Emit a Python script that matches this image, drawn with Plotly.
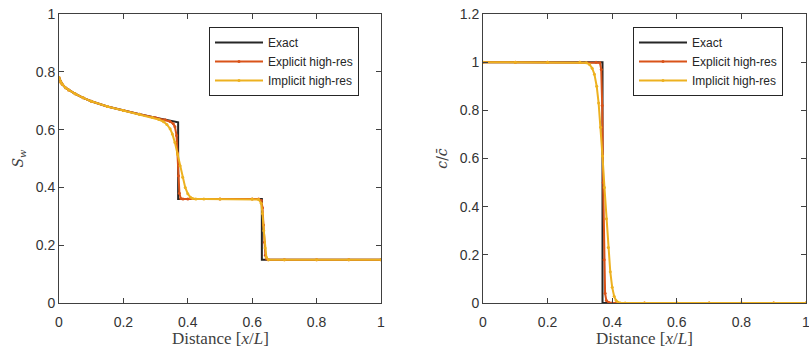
import plotly.graph_objects as go

# ---- Data ----
x_sw_exact = [0, 0.005, 0.01, 0.02, 0.03, 0.05, 0.075, 0.1, 0.15, 0.2, 0.25, 0.3, 0.35, 0.37, 0.37, 0.63, 0.63, 1.0]
sw_exact = [0.78, 0.765, 0.757, 0.745, 0.737, 0.724, 0.710, 0.698, 0.680, 0.666, 0.653, 0.641, 0.630, 0.625, 0.36, 0.36, 0.15, 0.15]

x_sw_expl = [0, 0.005, 0.01, 0.02, 0.03, 0.05, 0.075, 0.1, 0.15, 0.2, 0.25, 0.3, 0.33, 0.345, 0.355, 0.36, 0.365, 0.368, 0.371, 0.374, 0.378, 0.385, 0.4, 0.5, 0.6, 0.62, 0.628, 0.632, 0.635, 0.638, 0.641, 0.645, 0.65, 0.7, 0.8, 0.9, 1.0]
sw_expl = [0.78, 0.765, 0.757, 0.745, 0.737, 0.724, 0.710, 0.698, 0.680, 0.666, 0.653, 0.641, 0.634, 0.628, 0.620, 0.61, 0.58, 0.52, 0.44, 0.38, 0.362, 0.36, 0.36, 0.36, 0.36, 0.36, 0.355, 0.33, 0.27, 0.21, 0.165, 0.152, 0.15, 0.15, 0.15, 0.15, 0.15]

x_sw_impl = [0, 0.005, 0.01, 0.02, 0.03, 0.05, 0.075, 0.1, 0.15, 0.2, 0.25, 0.29, 0.31, 0.325, 0.335, 0.345, 0.352, 0.36, 0.368, 0.376, 0.384, 0.392, 0.4, 0.408, 0.415, 0.425, 0.45, 0.5, 0.6, 0.62, 0.628, 0.632, 0.636, 0.64, 0.644, 0.65, 0.7, 0.8, 0.9, 1.0]
sw_impl = [0.78, 0.765, 0.757, 0.745, 0.737, 0.724, 0.710, 0.698, 0.680, 0.666, 0.653, 0.642, 0.635, 0.627, 0.618, 0.603, 0.585, 0.555, 0.515, 0.475, 0.435, 0.400, 0.378, 0.366, 0.362, 0.36, 0.36, 0.36, 0.36, 0.358, 0.345, 0.31, 0.25, 0.19, 0.158, 0.15, 0.15, 0.15, 0.15, 0.15]

x_c_exact = [0, 0.37, 0.37, 1.0]
c_exact = [1, 1, 0, 0]

x_c_expl = [0, 0.1, 0.2, 0.3, 0.35, 0.362, 0.366, 0.369, 0.372, 0.375, 0.378, 0.382, 0.39, 0.4, 0.5, 0.6, 0.7, 0.8, 0.9, 1.0]
c_expl = [1, 1, 1, 1, 1, 0.998, 0.97, 0.82, 0.5, 0.18, 0.04, 0.01, 0.002, 0, 0, 0, 0, 0, 0, 0]

x_c_impl = [0, 0.1, 0.2, 0.3, 0.32, 0.33, 0.338, 0.345, 0.352, 0.358, 0.364, 0.37, 0.376, 0.382, 0.388, 0.394, 0.4, 0.406, 0.412, 0.418, 0.425, 0.44, 0.5, 0.6, 0.7, 0.8, 0.9, 1.0]
c_impl = [1, 1, 1, 1, 0.998, 0.99, 0.975, 0.95, 0.90, 0.83, 0.73, 0.61, 0.48, 0.35, 0.23, 0.13, 0.065, 0.028, 0.01, 0.003, 0, 0, 0, 0, 0, 0, 0, 0]

x_ticks = [0, 0.2, 0.4, 0.6, 0.8, 1]
x_ticklabels = ["0", "0.2", "0.4", "0.6", "0.8", "1"]
y_ticks_left = [0, 0.2, 0.4, 0.6, 0.8, 1]
y_ticks_right = [0, 0.2, 0.4, 0.6, 0.8, 1, 1.2]

names = ["Exact", "Explicit high-res", "Implicit high-res"]
colors = ["#262626", "#D95319", "#EDB120"]
x_title = "Distance [<i>x</i>/<i>L</i>]"

fig = go.Figure()

def add(xs, ys, i, xa, ya, leg):
    mode = "lines" if i == 0 else "lines+markers"
    fig.add_trace(go.Scatter(
        x=xs, y=ys, name=names[i], mode=mode,
        line=dict(color=colors[i], width=2),
        marker=dict(size=3, color=colors[i]),
        xaxis=xa, yaxis=ya, legend=leg))

add(x_sw_exact, sw_exact, 0, "x", "y", "legend")
add(x_sw_expl, sw_expl, 1, "x", "y", "legend")
add(x_sw_impl, sw_impl, 2, "x", "y", "legend")
add(x_c_exact, c_exact, 0, "x2", "y2", "legend2")
add(x_c_expl, c_expl, 1, "x2", "y2", "legend2")
add(x_c_impl, c_impl, 2, "x2", "y2", "legend2")

W, H = 809, 348
def px(v):  # page x -> paper fraction
    return v / W
def py(v):  # page y -> paper fraction (from bottom)
    return (H - v) / H

ydom = [py(303), py(14)]
axcol = "#404040"
tickfont = dict(family="Liberation Sans, Arial, sans-serif", size=14, color="#333333")
titlefont = dict(family="Liberation Serif, Times New Roman, serif", size=17, color="#404040")
ytitlefont = dict(family="DejaVu Serif, serif", size=14, color="#404040")

common = dict(showline=True, mirror="ticks", linecolor=axcol, linewidth=1,
              ticks="inside", ticklen=5, tickcolor=axcol, showgrid=False,
              zeroline=False, tickfont=tickfont, automargin=False)

legfont = dict(family="Liberation Sans, Arial, sans-serif", size=12, color="#262626")

fig.update_layout(
    width=W, height=H,
    margin=dict(l=0, r=0, t=0, b=0),
    plot_bgcolor="white", paper_bgcolor="white",
    xaxis=dict(domain=[px(59), px(381)], range=[0, 1], tickvals=x_ticks,
               ticktext=x_ticklabels, ticklabelstandoff=6, anchor="y", **common),
    yaxis=dict(domain=ydom, range=[0, 1], tickvals=y_ticks_left,
               title=dict(text="<i>S<sub>w</sub></i>", font=ytitlefont, standoff=8),
               anchor="x", **common),
    xaxis2=dict(domain=[px(483), px(806)], range=[0, 1], tickvals=x_ticks,
                ticktext=x_ticklabels, ticklabelstandoff=6, anchor="y2", **common),
    yaxis2=dict(domain=ydom, range=[0, 1.2], tickvals=y_ticks_right,
                title=dict(text="<i>c</i>/<i>c\u0304</i>", font=ytitlefont, standoff=8),
                anchor="x2", **common),
    legend=dict(x=px(209), y=py(27), xanchor="left", yanchor="top",
                bordercolor="#262626", borderwidth=1, bgcolor="white",
                font=legfont, tracegroupgap=0, itemwidth=48),
    legend2=dict(x=px(633), y=py(27), xanchor="left", yanchor="top",
                 bordercolor="#262626", borderwidth=1, bgcolor="white",
                 font=legfont, tracegroupgap=0, itemwidth=48),
    showlegend=True,
)

# x-axis titles (placed like the reference) and the right panel's last tick label
for xref in ("x", "x2"):
    fig.add_annotation(text=x_title, xref=xref + " domain", x=0.5, yref="paper", y=py(338),
                       xanchor="center", yanchor="middle", showarrow=False, font=titlefont)
fig.add_annotation(text=x_ticklabels[-1], xref="x2", x=x_ticks[-1], yref="paper", y=py(322),
                   xanchor="center", yanchor="middle", showarrow=False, font=tickfont)

fig.write_html(
    "out.html",
    config={"displayModeBar": False},
    post_script="document.body.style.margin='0';document.body.style.overflow='hidden';",
)
